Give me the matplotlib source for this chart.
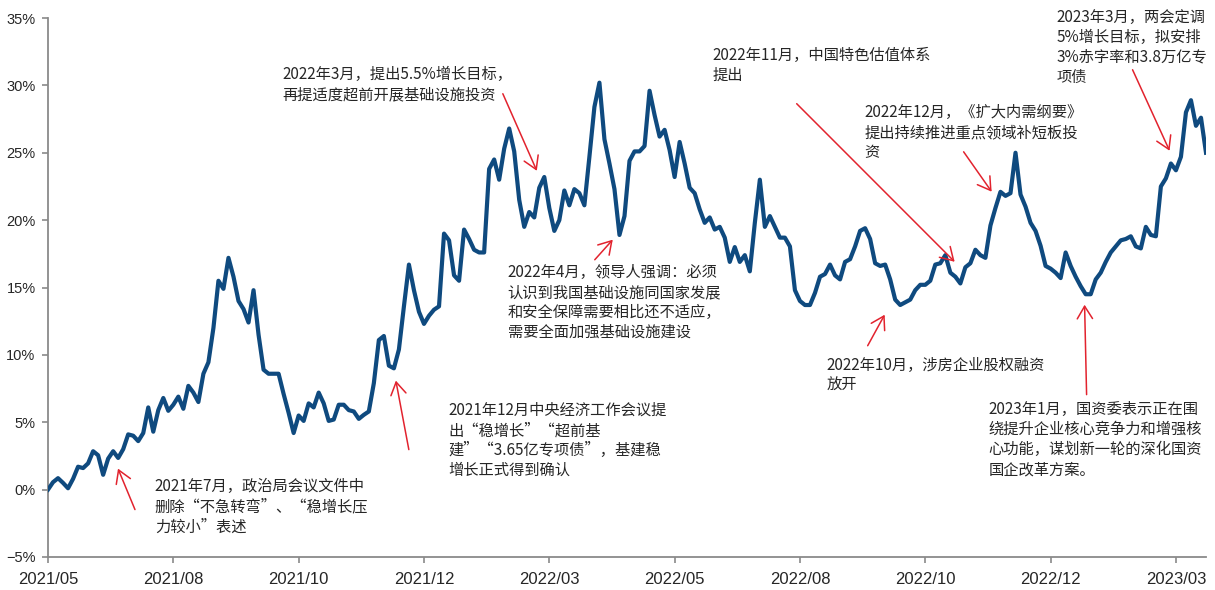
import matplotlib
matplotlib.use('Agg')
import matplotlib.pyplot as plt

# 基建板块累计涨幅(%)，约每两个交易日一个点
growth = [
    0.0, 0.55, 0.85, 0.5, 0.1, 0.8, 1.7, 1.6, 1.95, 2.85,
    2.55, 1.1, 2.3, 2.85, 2.35, 3.0, 4.1, 4.0, 3.6, 4.2,
    6.1, 4.3, 5.9, 6.8, 5.85, 6.3, 6.9, 6.0, 7.7, 7.2,
    6.5, 8.6, 9.45, 12.0, 15.5, 14.9, 17.2, 15.8, 14.0, 13.4,
    12.4, 14.8, 11.5, 8.9, 8.6, 8.6, 8.6, 7.1, 5.7, 4.2,
    5.5, 5.1, 6.4, 6.1, 7.2, 6.4, 5.1, 5.2, 6.3, 6.3,
    5.9, 5.8, 5.25, 5.55, 5.8, 7.9, 11.1, 11.4, 9.2, 9.0,
    10.4, 13.6, 16.7, 14.8, 13.2, 12.3, 12.9, 13.35, 13.6, 19.0,
    18.5, 15.9, 15.5, 19.3, 18.6, 17.8, 17.6, 17.6, 23.8, 24.5,
    23.0, 25.3, 26.8, 25.1, 21.5, 19.5, 20.6, 20.2, 22.4, 23.2,
    20.9, 19.2, 20.0, 22.2, 21.1, 22.3, 22.0, 21.1, 24.7, 28.4,
    30.2, 26.0, 24.2, 22.3, 18.9, 20.3, 24.4, 25.1, 25.1, 25.5,
    29.6, 27.8, 26.2, 26.7, 25.2, 23.2, 25.8, 24.2, 22.4, 22.0,
    20.8, 19.8, 20.2, 19.3, 19.5, 18.7, 16.9, 18.0, 16.9, 17.4,
    16.2, 19.8, 23.0, 19.5, 20.3, 19.5, 18.7, 18.7, 18.05, 14.8,
    14.0, 13.7, 13.7, 14.6, 15.8, 16.0, 16.7, 15.9, 15.6, 16.9,
    17.1, 18.05, 19.2, 19.4, 18.6, 16.8, 16.6, 16.7, 15.6, 14.1,
    13.7, 13.9, 14.1, 14.8, 15.2, 15.2, 15.5, 16.7, 16.8, 17.4,
    16.1, 15.8, 15.3, 16.5, 16.8, 17.8, 17.4, 17.2, 19.6, 20.9,
    22.1, 21.8, 22.0, 25.0, 21.9, 21.0, 19.8, 19.2, 18.1, 16.6,
    16.4, 16.1, 15.7, 17.6, 16.6, 15.8, 15.1, 14.5, 14.5, 15.6,
    16.1, 16.9, 17.6, 18.05, 18.5, 18.6, 18.8, 18.05, 17.9, 19.5,
    18.9, 18.8, 22.5, 23.1, 24.2, 23.7, 24.7, 28.0, 28.9, 27.0,
    27.6, 25.0,
]

date_labels = ['2021/05', '2021/08', '2021/10', '2021/12', '2022/03',
               '2022/05', '2022/08', '2022/10', '2022/12', '2023/03']
label_every = 25

y_ticks = [-5, 0, 5, 10, 15, 20, 25, 30, 35]

# 事件标注：文字左上角位置、箭头起止点（数据坐标）
notes = [
    (21.3, 0.2, ['2021年7月，政治局会议文件中',
                 '删除“不急转弯”、“稳增长压',
                 '力较小”表述']),
    (79.8, 5.86, ['2021年12月中央经济工作会议提',
                  '出“稳增长”“超前基',
                  '建”“3.65亿专项债”，基建稳',
                  '增长正式得到确认']),
    (46.7, 30.8, ['2022年3月，提出5.5%增长目标，',
                  '再提适度超前开展基础设施投资']),
    (91.7, 16.1, ['2022年4月，领导人强调：必须',
                  '认识到我国基础设施同国家发展',
                  '和安全保障需要相比还不适应，',
                  '需要全面加强基础设施建设']),
    (132.6, 32.2, ['2022年11月，中国特色估值体系',
                   '提出']),
    (155.3, 9.2, ['2022年10月，涉房企业股权融资',
                  '放开']),
    (162.9, 27.97, ['2022年12月，《扩大内需纲要》',
                    '提出持续推进重点领域补短板投',
                    '资']),
    (187.6, 5.93, ['2023年1月，国资委表示正在围',
                   '绕提升企业核心竞争力和增强核',
                   '心功能，谋划新一轮的深化国资',
                   '国企改革方案。']),
    (201.2, 35.05, ['2023年3月，两会定调',
                    '5%增长目标，拟安排',
                    '3%赤字率和3.8万亿专',
                    '项债']),
]
arrows = [
    ((17.35, -1.48), (13.96, 1.56)),
    ((71.98, 2.97), (69.39, 8.09)),
    ((90.73, 29.38), (97.51, 23.66)),
    ((109.07, 17.06), (112.66, 18.55)),
    ((149.35, 28.64), (180.86, 16.91)),
    ((163.51, 10.68), (166.9, 12.98)),
    ((182.65, 25.07), (188.24, 22.11)),
    ((207.18, 7.05), (206.78, 13.72)),
    ((216.35, 31.16), (223.73, 25.15)),
]
line_step = 1.48

plt.rcParams['font.family'] = ['Liberation Sans', 'Noto Sans CJK SC', 'DejaVu Sans']

fig = plt.figure(figsize=(12.15, 5.9), dpi=100)
ax = fig.add_axes([48 / 1215, 1 - 557 / 590, 1158 / 1215, 539 / 590])

ax.plot(range(len(growth)), growth, color='#0F4A7F', lw=3.0,
        solid_joinstyle='round', zorder=3)

ax.set_xlim(0, len(growth) - 1)
ax.set_ylim(-5, 35)
ax.set_yticks(y_ticks)
ax.set_yticklabels([('\u2212%d%%' % -v) if v < 0 else '%d%%' % v for v in y_ticks])
ax.set_xticks([k * label_every for k in range(len(date_labels))])
ax.set_xticklabels(date_labels)

for s in ['top', 'right']:
    ax.spines[s].set_visible(False)
for s in ['left', 'bottom']:
    ax.spines[s].set_color('#8a8a8a')
    ax.spines[s].set_linewidth(1.3)
ax.tick_params(axis='y', direction='out', length=4, width=1.2, color='#8a8a8a',
               labelsize=10.5, labelcolor='#262626', pad=5)
ax.tick_params(axis='x', direction='out', length=4, width=1.2, color='#8a8a8a',
               labelsize=12, labelcolor='#262626', pad=7)

note_font = ['Noto Sans CJK SC', 'DejaVu Sans']
for x0, y0, lines in notes:
    for k, line in enumerate(lines):
        ax.text(x0, y0 - k * line_step, line, fontsize=11, color='#262626',
                family=note_font, va='center', ha='left', zorder=4)

for tail, head in arrows:
    ax.annotate('', xy=head, xytext=tail,
                arrowprops=dict(arrowstyle='->,head_length=0.9,head_width=0.55',
                                color='#E2232E', lw=1.1, shrinkA=0, shrinkB=0),
                zorder=5)

fig.savefig('out.png', dpi=100)
